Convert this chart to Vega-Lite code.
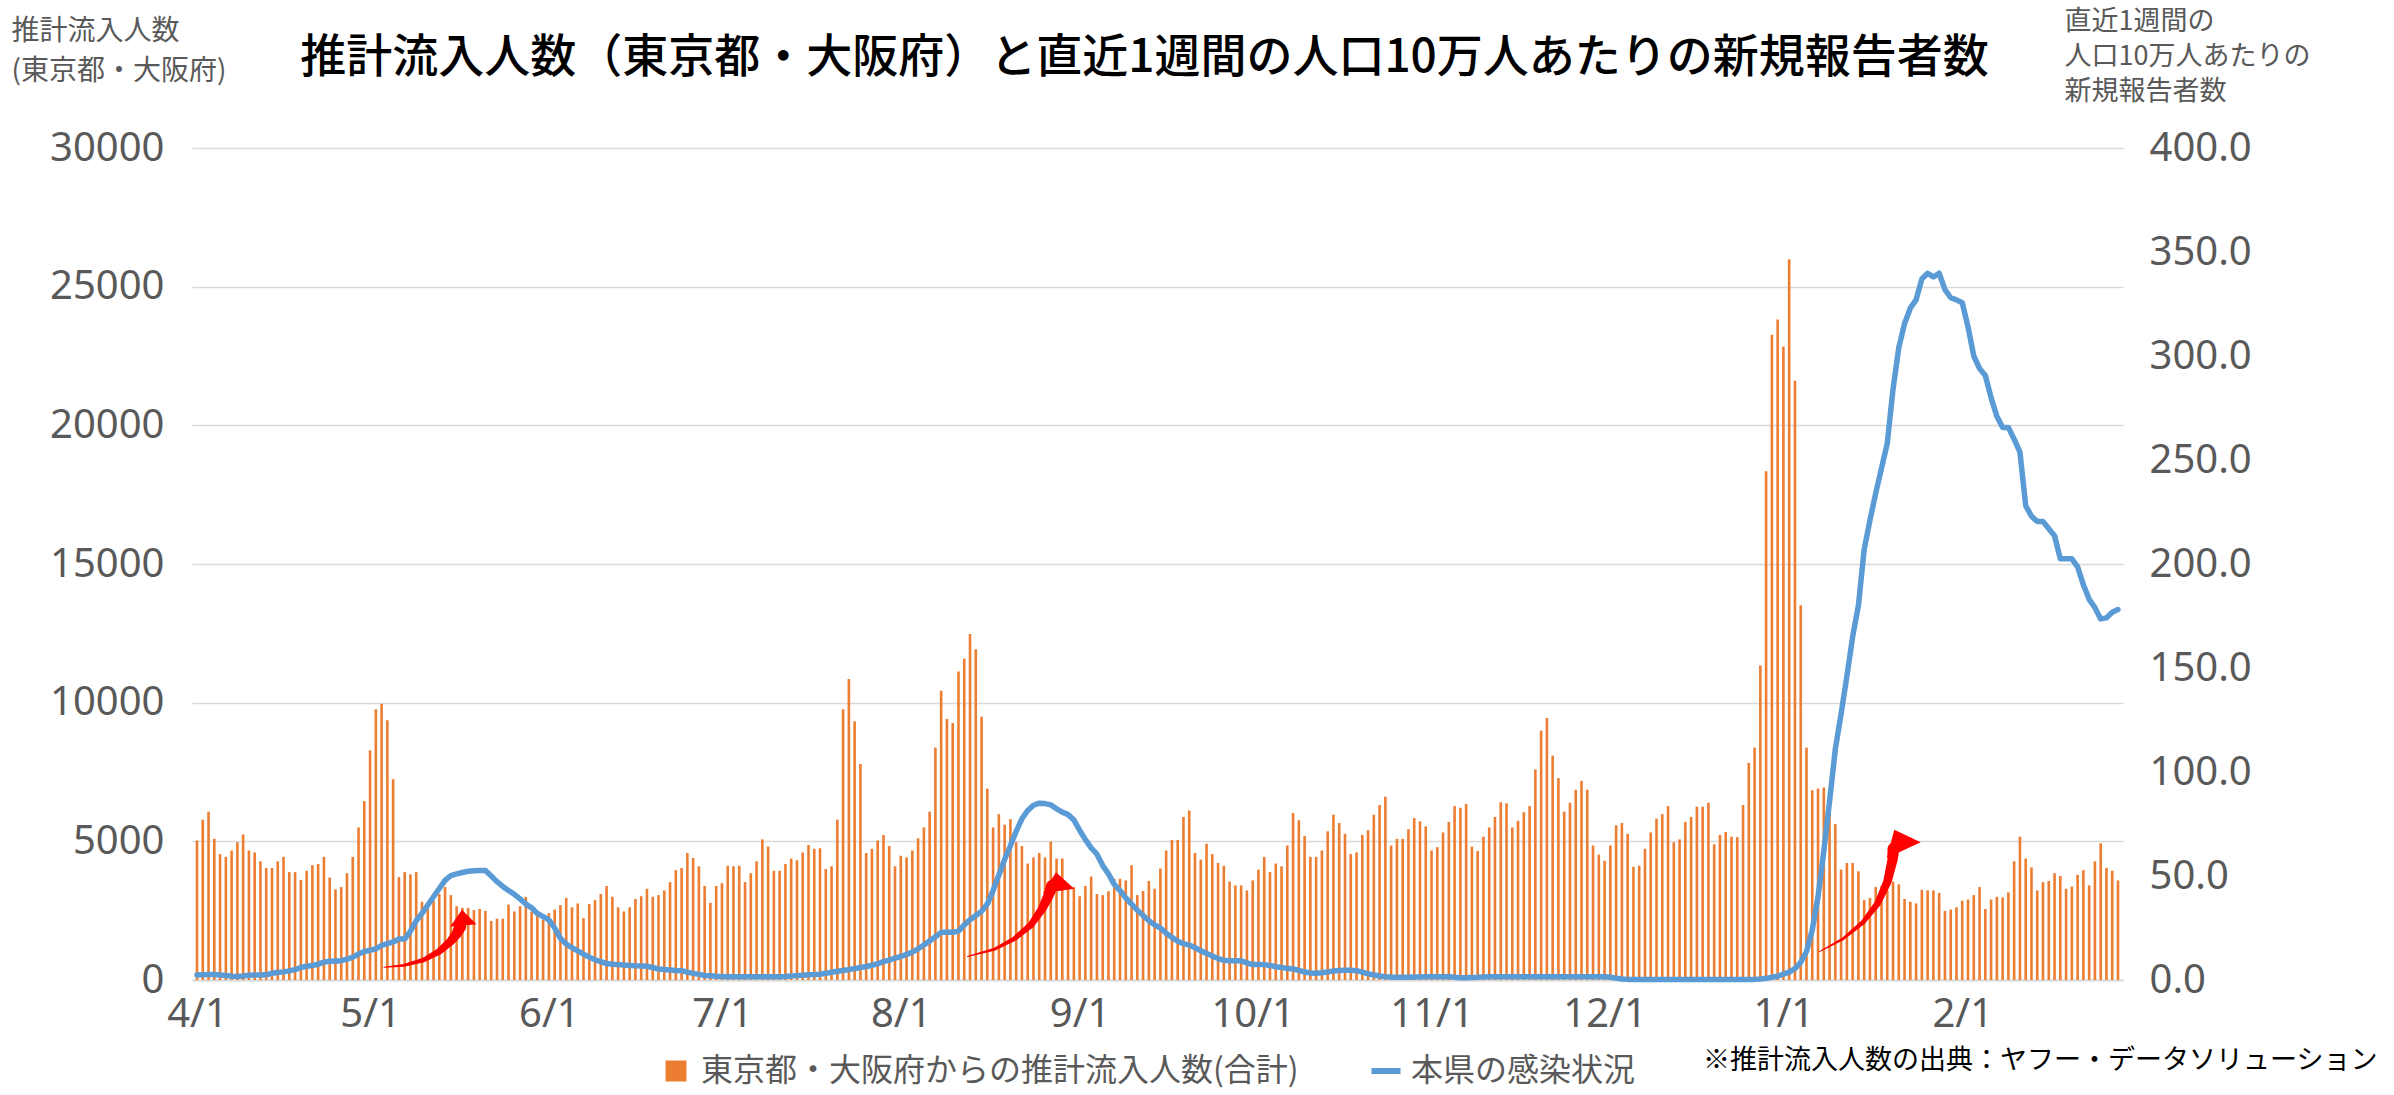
{
"$schema": "https://vega.github.io/schema/vega-lite/v6.json",
"width": 1931,
"height": 832,
"autosize": {"type": "none"},
"padding": {"left": 192, "top": 148, "right": 271, "bottom": 115},
"background": "#ffffff",
"config": {"view": {"stroke": null}, "font": "Noto Sans CJK JP"},
"title": {"text": "推計流入人数（東京都・大阪府）と直近1週間の人口10万人あたりの新規報告者数", "font": "Noto Sans CJK JP", "fontSize": 46, "fontWeight": 500, "color": "#000000", "anchor": "middle", "frame": "group", "dx": -13, "dy": 79},
"data": {"name": "daily", "format": {"parse": {"date": "date:'%Y-%m-%d'"}}},
"datasets": {
"daily": [
{"date":"2021-04-01","inflow":5030,"rate":2.4},
{"date":"2021-04-02","inflow":5780,"rate":2.5},
{"date":"2021-04-03","inflow":6070,"rate":2.6},
{"date":"2021-04-04","inflow":5090,"rate":2.6},
{"date":"2021-04-05","inflow":4540,"rate":2.4},
{"date":"2021-04-06","inflow":4440,"rate":2.2},
{"date":"2021-04-07","inflow":4670,"rate":1.8},
{"date":"2021-04-08","inflow":4970,"rate":1.7},
{"date":"2021-04-09","inflow":5250,"rate":1.9},
{"date":"2021-04-10","inflow":4670,"rate":2.3},
{"date":"2021-04-11","inflow":4600,"rate":2.4},
{"date":"2021-04-12","inflow":4280,"rate":2.4},
{"date":"2021-04-13","inflow":4040,"rate":2.5},
{"date":"2021-04-14","inflow":4040,"rate":3.2},
{"date":"2021-04-15","inflow":4280,"rate":3.6},
{"date":"2021-04-16","inflow":4440,"rate":3.9},
{"date":"2021-04-17","inflow":3890,"rate":4.4},
{"date":"2021-04-18","inflow":3890,"rate":5.0},
{"date":"2021-04-19","inflow":3610,"rate":6.0},
{"date":"2021-04-20","inflow":3940,"rate":6.6},
{"date":"2021-04-21","inflow":4140,"rate":7.0},
{"date":"2021-04-22","inflow":4180,"rate":7.6},
{"date":"2021-04-23","inflow":4440,"rate":8.6},
{"date":"2021-04-24","inflow":3690,"rate":9.0},
{"date":"2021-04-25","inflow":3270,"rate":9.1},
{"date":"2021-04-26","inflow":3350,"rate":9.3},
{"date":"2021-04-27","inflow":3850,"rate":10.0},
{"date":"2021-04-28","inflow":4440,"rate":11.0},
{"date":"2021-04-29","inflow":5500,"rate":12.5},
{"date":"2021-04-30","inflow":6450,"rate":13.7},
{"date":"2021-05-01","inflow":8280,"rate":14.3},
{"date":"2021-05-02","inflow":9760,"rate":15.0},
{"date":"2021-05-03","inflow":9960,"rate":16.6},
{"date":"2021-05-04","inflow":9370,"rate":17.5},
{"date":"2021-05-05","inflow":7240,"rate":18.3},
{"date":"2021-05-06","inflow":3710,"rate":19.7},
{"date":"2021-05-07","inflow":3890,"rate":19.7},
{"date":"2021-05-08","inflow":3810,"rate":23.5},
{"date":"2021-05-09","inflow":3890,"rate":28.5},
{"date":"2021-05-10","inflow":2820,"rate":32.0},
{"date":"2021-05-11","inflow":2620,"rate":36.0},
{"date":"2021-05-12","inflow":2860,"rate":40.0},
{"date":"2021-05-13","inflow":3100,"rate":44.0},
{"date":"2021-05-14","inflow":3350,"rate":47.9},
{"date":"2021-05-15","inflow":3060,"rate":50.2},
{"date":"2021-05-16","inflow":2660,"rate":51.0},
{"date":"2021-05-17","inflow":2600,"rate":51.7},
{"date":"2021-05-18","inflow":2600,"rate":52.3},
{"date":"2021-05-19","inflow":2520,"rate":52.5},
{"date":"2021-05-20","inflow":2560,"rate":52.6},
{"date":"2021-05-21","inflow":2490,"rate":52.6},
{"date":"2021-05-22","inflow":2130,"rate":50.0},
{"date":"2021-05-23","inflow":2210,"rate":47.3},
{"date":"2021-05-24","inflow":2210,"rate":45.0},
{"date":"2021-05-25","inflow":2720,"rate":43.0},
{"date":"2021-05-26","inflow":2470,"rate":41.2},
{"date":"2021-05-27","inflow":2660,"rate":39.0},
{"date":"2021-05-28","inflow":3000,"rate":36.5},
{"date":"2021-05-29","inflow":2470,"rate":34.7},
{"date":"2021-05-30","inflow":2470,"rate":32.0},
{"date":"2021-05-31","inflow":2170,"rate":30.5},
{"date":"2021-06-01","inflow":2410,"rate":28.9},
{"date":"2021-06-02","inflow":2540,"rate":25.0},
{"date":"2021-06-03","inflow":2700,"rate":20.0},
{"date":"2021-06-04","inflow":2960,"rate":17.3},
{"date":"2021-06-05","inflow":2620,"rate":15.5},
{"date":"2021-06-06","inflow":2760,"rate":14.0},
{"date":"2021-06-07","inflow":2230,"rate":12.4},
{"date":"2021-06-08","inflow":2740,"rate":11.0},
{"date":"2021-06-09","inflow":2880,"rate":9.7},
{"date":"2021-06-10","inflow":3100,"rate":8.8},
{"date":"2021-06-11","inflow":3390,"rate":7.9},
{"date":"2021-06-12","inflow":3000,"rate":7.6},
{"date":"2021-06-13","inflow":2620,"rate":7.4},
{"date":"2021-06-14","inflow":2470,"rate":7.2},
{"date":"2021-06-15","inflow":2620,"rate":7.0},
{"date":"2021-06-16","inflow":2920,"rate":6.8},
{"date":"2021-06-17","inflow":3020,"rate":6.7},
{"date":"2021-06-18","inflow":3290,"rate":6.6},
{"date":"2021-06-19","inflow":3000,"rate":6.0},
{"date":"2021-06-20","inflow":3060,"rate":5.3},
{"date":"2021-06-21","inflow":3230,"rate":5.0},
{"date":"2021-06-22","inflow":3530,"rate":4.8},
{"date":"2021-06-23","inflow":3960,"rate":4.6},
{"date":"2021-06-24","inflow":4040,"rate":4.5},
{"date":"2021-06-25","inflow":4580,"rate":3.8},
{"date":"2021-06-26","inflow":4400,"rate":3.2},
{"date":"2021-06-27","inflow":4100,"rate":2.7},
{"date":"2021-06-28","inflow":3390,"rate":2.2},
{"date":"2021-06-29","inflow":2780,"rate":2.0},
{"date":"2021-06-30","inflow":3390,"rate":1.8},
{"date":"2021-07-01","inflow":3490,"rate":1.7},
{"date":"2021-07-02","inflow":4120,"rate":1.6},
{"date":"2021-07-03","inflow":4100,"rate":1.6},
{"date":"2021-07-04","inflow":4120,"rate":1.6},
{"date":"2021-07-05","inflow":3530,"rate":1.6},
{"date":"2021-07-06","inflow":3850,"rate":1.6},
{"date":"2021-07-07","inflow":4280,"rate":1.6},
{"date":"2021-07-08","inflow":5070,"rate":1.6},
{"date":"2021-07-09","inflow":4810,"rate":1.6},
{"date":"2021-07-10","inflow":3940,"rate":1.6},
{"date":"2021-07-11","inflow":3940,"rate":1.6},
{"date":"2021-07-12","inflow":4180,"rate":1.7},
{"date":"2021-07-13","inflow":4380,"rate":1.9},
{"date":"2021-07-14","inflow":4320,"rate":2.1},
{"date":"2021-07-15","inflow":4600,"rate":2.3},
{"date":"2021-07-16","inflow":4870,"rate":2.5},
{"date":"2021-07-17","inflow":4730,"rate":2.6},
{"date":"2021-07-18","inflow":4750,"rate":2.8},
{"date":"2021-07-19","inflow":4000,"rate":3.2},
{"date":"2021-07-20","inflow":4100,"rate":3.7},
{"date":"2021-07-21","inflow":5780,"rate":4.2},
{"date":"2021-07-22","inflow":9760,"rate":4.6},
{"date":"2021-07-23","inflow":10850,"rate":5.0},
{"date":"2021-07-24","inflow":9330,"rate":5.5},
{"date":"2021-07-25","inflow":7790,"rate":6.0},
{"date":"2021-07-26","inflow":4580,"rate":6.5},
{"date":"2021-07-27","inflow":4730,"rate":7.1},
{"date":"2021-07-28","inflow":5030,"rate":7.8},
{"date":"2021-07-29","inflow":5230,"rate":8.8},
{"date":"2021-07-30","inflow":4830,"rate":9.6},
{"date":"2021-07-31","inflow":4100,"rate":10.5},
{"date":"2021-08-01","inflow":4480,"rate":11.3},
{"date":"2021-08-02","inflow":4420,"rate":12.3},
{"date":"2021-08-03","inflow":4670,"rate":13.4},
{"date":"2021-08-04","inflow":5110,"rate":15.0},
{"date":"2021-08-05","inflow":5500,"rate":16.8},
{"date":"2021-08-06","inflow":6070,"rate":18.8},
{"date":"2021-08-07","inflow":8380,"rate":20.8},
{"date":"2021-08-08","inflow":10430,"rate":22.9},
{"date":"2021-08-09","inflow":9410,"rate":22.9},
{"date":"2021-08-10","inflow":9270,"rate":22.9},
{"date":"2021-08-11","inflow":11120,"rate":23.5},
{"date":"2021-08-12","inflow":11580,"rate":26.5},
{"date":"2021-08-13","inflow":12480,"rate":29.0},
{"date":"2021-08-14","inflow":11930,"rate":31.0},
{"date":"2021-08-15","inflow":9490,"rate":33.0},
{"date":"2021-08-16","inflow":6900,"rate":36.5},
{"date":"2021-08-17","inflow":5500,"rate":43.0},
{"date":"2021-08-18","inflow":5980,"rate":50.5},
{"date":"2021-08-19","inflow":5600,"rate":58.0},
{"date":"2021-08-20","inflow":5800,"rate":64.5},
{"date":"2021-08-21","inflow":4970,"rate":71.5},
{"date":"2021-08-22","inflow":4830,"rate":77.5},
{"date":"2021-08-23","inflow":4200,"rate":81.5},
{"date":"2021-08-24","inflow":4420,"rate":84.0},
{"date":"2021-08-25","inflow":4580,"rate":85.0},
{"date":"2021-08-26","inflow":4420,"rate":84.8},
{"date":"2021-08-27","inflow":4990,"rate":84.2},
{"date":"2021-08-28","inflow":4380,"rate":82.3},
{"date":"2021-08-29","inflow":4380,"rate":80.7},
{"date":"2021-08-30","inflow":3410,"rate":79.5},
{"date":"2021-08-31","inflow":3350,"rate":77.0},
{"date":"2021-09-01","inflow":3020,"rate":72.0},
{"date":"2021-09-02","inflow":3390,"rate":67.5},
{"date":"2021-09-03","inflow":3730,"rate":63.5},
{"date":"2021-09-04","inflow":3100,"rate":60.5},
{"date":"2021-09-05","inflow":3060,"rate":55.0},
{"date":"2021-09-06","inflow":3200,"rate":51.0},
{"date":"2021-09-07","inflow":3650,"rate":46.0},
{"date":"2021-09-08","inflow":3650,"rate":43.0},
{"date":"2021-09-09","inflow":3590,"rate":39.5},
{"date":"2021-09-10","inflow":4140,"rate":36.5},
{"date":"2021-09-11","inflow":3060,"rate":33.5},
{"date":"2021-09-12","inflow":3210,"rate":31.0},
{"date":"2021-09-13","inflow":3570,"rate":28.5},
{"date":"2021-09-14","inflow":3290,"rate":26.5},
{"date":"2021-09-15","inflow":4020,"rate":25.0},
{"date":"2021-09-16","inflow":4670,"rate":22.5},
{"date":"2021-09-17","inflow":5050,"rate":20.5},
{"date":"2021-09-18","inflow":5050,"rate":18.6},
{"date":"2021-09-19","inflow":5880,"rate":17.5},
{"date":"2021-09-20","inflow":6110,"rate":16.8},
{"date":"2021-09-21","inflow":4580,"rate":15.5},
{"date":"2021-09-22","inflow":4340,"rate":14.0},
{"date":"2021-09-23","inflow":4910,"rate":12.8},
{"date":"2021-09-24","inflow":4540,"rate":11.5},
{"date":"2021-09-25","inflow":4220,"rate":10.3},
{"date":"2021-09-26","inflow":4120,"rate":9.5},
{"date":"2021-09-27","inflow":3550,"rate":9.3},
{"date":"2021-09-28","inflow":3410,"rate":9.2},
{"date":"2021-09-29","inflow":3410,"rate":9.2},
{"date":"2021-09-30","inflow":3230,"rate":8.2},
{"date":"2021-10-01","inflow":3590,"rate":7.4},
{"date":"2021-10-02","inflow":3980,"rate":7.4},
{"date":"2021-10-03","inflow":4440,"rate":7.4},
{"date":"2021-10-04","inflow":3890,"rate":7.0},
{"date":"2021-10-05","inflow":4200,"rate":6.4},
{"date":"2021-10-06","inflow":4100,"rate":6.0},
{"date":"2021-10-07","inflow":4850,"rate":5.6},
{"date":"2021-10-08","inflow":6020,"rate":5.3},
{"date":"2021-10-09","inflow":5760,"rate":4.6},
{"date":"2021-10-10","inflow":5190,"rate":3.8},
{"date":"2021-10-11","inflow":4440,"rate":3.4},
{"date":"2021-10-12","inflow":4440,"rate":3.2},
{"date":"2021-10-13","inflow":4670,"rate":3.5},
{"date":"2021-10-14","inflow":5360,"rate":3.9},
{"date":"2021-10-15","inflow":5960,"rate":4.3},
{"date":"2021-10-16","inflow":5660,"rate":4.6},
{"date":"2021-10-17","inflow":5270,"rate":4.7},
{"date":"2021-10-18","inflow":4540,"rate":4.7},
{"date":"2021-10-19","inflow":4600,"rate":4.5},
{"date":"2021-10-20","inflow":5230,"rate":3.8},
{"date":"2021-10-21","inflow":5400,"rate":3.0},
{"date":"2021-10-22","inflow":5960,"rate":2.4},
{"date":"2021-10-23","inflow":6310,"rate":1.9},
{"date":"2021-10-24","inflow":6610,"rate":1.6},
{"date":"2021-10-25","inflow":4850,"rate":1.4},
{"date":"2021-10-26","inflow":5090,"rate":1.3},
{"date":"2021-10-27","inflow":5090,"rate":1.3},
{"date":"2021-10-28","inflow":5440,"rate":1.3},
{"date":"2021-10-29","inflow":5840,"rate":1.4},
{"date":"2021-10-30","inflow":5720,"rate":1.5},
{"date":"2021-10-31","inflow":5540,"rate":1.6},
{"date":"2021-11-01","inflow":4670,"rate":1.6},
{"date":"2021-11-02","inflow":4790,"rate":1.6},
{"date":"2021-11-03","inflow":5320,"rate":1.6},
{"date":"2021-11-04","inflow":5700,"rate":1.6},
{"date":"2021-11-05","inflow":6270,"rate":1.3},
{"date":"2021-11-06","inflow":6210,"rate":1.1},
{"date":"2021-11-07","inflow":6350,"rate":1.1},
{"date":"2021-11-08","inflow":4810,"rate":1.2},
{"date":"2021-11-09","inflow":4650,"rate":1.3},
{"date":"2021-11-10","inflow":5170,"rate":1.5},
{"date":"2021-11-11","inflow":5500,"rate":1.6},
{"date":"2021-11-12","inflow":5880,"rate":1.6},
{"date":"2021-11-13","inflow":6410,"rate":1.6},
{"date":"2021-11-14","inflow":6370,"rate":1.6},
{"date":"2021-11-15","inflow":5500,"rate":1.6},
{"date":"2021-11-16","inflow":5740,"rate":1.6},
{"date":"2021-11-17","inflow":6050,"rate":1.6},
{"date":"2021-11-18","inflow":6270,"rate":1.6},
{"date":"2021-11-19","inflow":7590,"rate":1.6},
{"date":"2021-11-20","inflow":8990,"rate":1.6},
{"date":"2021-11-21","inflow":9450,"rate":1.6},
{"date":"2021-11-22","inflow":8090,"rate":1.6},
{"date":"2021-11-23","inflow":7280,"rate":1.6},
{"date":"2021-11-24","inflow":6070,"rate":1.6},
{"date":"2021-11-25","inflow":6390,"rate":1.6},
{"date":"2021-11-26","inflow":6860,"rate":1.6},
{"date":"2021-11-27","inflow":7180,"rate":1.6},
{"date":"2021-11-28","inflow":6860,"rate":1.6},
{"date":"2021-11-29","inflow":4850,"rate":1.6},
{"date":"2021-11-30","inflow":4520,"rate":1.6},
{"date":"2021-12-01","inflow":4300,"rate":1.6},
{"date":"2021-12-02","inflow":4850,"rate":1.3},
{"date":"2021-12-03","inflow":5580,"rate":0.9},
{"date":"2021-12-04","inflow":5660,"rate":0.5},
{"date":"2021-12-05","inflow":5270,"rate":0.3},
{"date":"2021-12-06","inflow":4080,"rate":0.3},
{"date":"2021-12-07","inflow":4120,"rate":0.3},
{"date":"2021-12-08","inflow":4730,"rate":0.3},
{"date":"2021-12-09","inflow":5320,"rate":0.3},
{"date":"2021-12-10","inflow":5820,"rate":0.3},
{"date":"2021-12-11","inflow":5980,"rate":0.3},
{"date":"2021-12-12","inflow":6270,"rate":0.3},
{"date":"2021-12-13","inflow":4970,"rate":0.3},
{"date":"2021-12-14","inflow":5070,"rate":0.3},
{"date":"2021-12-15","inflow":5700,"rate":0.3},
{"date":"2021-12-16","inflow":5880,"rate":0.3},
{"date":"2021-12-17","inflow":6250,"rate":0.3},
{"date":"2021-12-18","inflow":6250,"rate":0.3},
{"date":"2021-12-19","inflow":6390,"rate":0.3},
{"date":"2021-12-20","inflow":4890,"rate":0.3},
{"date":"2021-12-21","inflow":5230,"rate":0.3},
{"date":"2021-12-22","inflow":5340,"rate":0.3},
{"date":"2021-12-23","inflow":5170,"rate":0.3},
{"date":"2021-12-24","inflow":5150,"rate":0.3},
{"date":"2021-12-25","inflow":6310,"rate":0.3},
{"date":"2021-12-26","inflow":7830,"rate":0.3},
{"date":"2021-12-27","inflow":8380,"rate":0.3},
{"date":"2021-12-28","inflow":11340,"rate":0.5},
{"date":"2021-12-29","inflow":18340,"rate":0.8},
{"date":"2021-12-30","inflow":23270,"rate":1.3},
{"date":"2021-12-31","inflow":23820,"rate":1.8},
{"date":"2022-01-01","inflow":22840,"rate":2.8},
{"date":"2022-01-02","inflow":25990,"rate":3.8},
{"date":"2022-01-03","inflow":21610,"rate":5.5},
{"date":"2022-01-04","inflow":13510,"rate":8.5},
{"date":"2022-01-05","inflow":8380,"rate":13.7},
{"date":"2022-01-06","inflow":6840,"rate":24},
{"date":"2022-01-07","inflow":6900,"rate":40},
{"date":"2022-01-08","inflow":6940,"rate":62},
{"date":"2022-01-09","inflow":6450,"rate":86},
{"date":"2022-01-10","inflow":5620,"rate":111},
{"date":"2022-01-11","inflow":3980,"rate":128},
{"date":"2022-01-12","inflow":4220,"rate":146},
{"date":"2022-01-13","inflow":4220,"rate":165},
{"date":"2022-01-14","inflow":3920,"rate":180},
{"date":"2022-01-15","inflow":2880,"rate":207},
{"date":"2022-01-16","inflow":2960,"rate":221},
{"date":"2022-01-17","inflow":3350,"rate":234},
{"date":"2022-01-18","inflow":3390,"rate":246},
{"date":"2022-01-19","inflow":3230,"rate":258},
{"date":"2022-01-20","inflow":3550,"rate":284},
{"date":"2022-01-21","inflow":3450,"rate":304},
{"date":"2022-01-22","inflow":2920,"rate":315.6},
{"date":"2022-01-23","inflow":2820,"rate":323},
{"date":"2022-01-24","inflow":2760,"rate":327},
{"date":"2022-01-25","inflow":3250,"rate":337},
{"date":"2022-01-26","inflow":3230,"rate":339.8},
{"date":"2022-01-27","inflow":3230,"rate":338.0},
{"date":"2022-01-28","inflow":3140,"rate":339.8},
{"date":"2022-01-29","inflow":2490,"rate":331.9},
{"date":"2022-01-30","inflow":2540,"rate":328},
{"date":"2022-01-31","inflow":2620,"rate":327},
{"date":"2022-02-01","inflow":2860,"rate":325.6},
{"date":"2022-02-02","inflow":2900,"rate":314},
{"date":"2022-02-03","inflow":3060,"rate":300},
{"date":"2022-02-04","inflow":3350,"rate":294},
{"date":"2022-02-05","inflow":2560,"rate":290.6},
{"date":"2022-02-06","inflow":2900,"rate":280},
{"date":"2022-02-07","inflow":3000,"rate":271},
{"date":"2022-02-08","inflow":2980,"rate":265.6},
{"date":"2022-02-09","inflow":3160,"rate":265.6},
{"date":"2022-02-10","inflow":4280,"rate":260},
{"date":"2022-02-11","inflow":5170,"rate":253.8},
{"date":"2022-02-12","inflow":4380,"rate":228},
{"date":"2022-02-13","inflow":4060,"rate":223},
{"date":"2022-02-14","inflow":3230,"rate":220.4},
{"date":"2022-02-15","inflow":3530,"rate":220.4},
{"date":"2022-02-16","inflow":3570,"rate":217},
{"date":"2022-02-17","inflow":3850,"rate":213.6},
{"date":"2022-02-18","inflow":3750,"rate":202.5},
{"date":"2022-02-19","inflow":3290,"rate":202.5},
{"date":"2022-02-20","inflow":3370,"rate":202.5},
{"date":"2022-02-21","inflow":3790,"rate":198.6},
{"date":"2022-02-22","inflow":3960,"rate":190},
{"date":"2022-02-23","inflow":3410,"rate":183},
{"date":"2022-02-24","inflow":4280,"rate":179},
{"date":"2022-02-25","inflow":4930,"rate":173.6},
{"date":"2022-02-26","inflow":4040,"rate":174.1},
{"date":"2022-02-27","inflow":3940,"rate":176.8},
{"date":"2022-02-28","inflow":3590,"rate":178.1}
],
"arrows": [
{"arrow":1,"step":0,"date":"2021-05-03T10:00","value":458},
{"arrow":1,"step":1,"date":"2021-05-06T21:00","value":530},
{"arrow":1,"step":2,"date":"2021-05-10T07:00","value":721},
{"arrow":1,"step":3,"date":"2021-05-12T22:00","value":1021},
{"arrow":1,"step":4,"date":"2021-05-14T22:00","value":1381},
{"arrow":1,"step":5,"date":"2021-05-16T01:00","value":1684},
{"arrow":1,"step":6,"date":"2021-05-16T15:00","value":1922},
{"arrow":2,"step":0,"date":"2021-08-12T13:00","value":848},
{"arrow":2,"step":1,"date":"2021-08-17T04:00","value":1104},
{"arrow":2,"step":2,"date":"2021-08-20T15:00","value":1479},
{"arrow":2,"step":3,"date":"2021-08-23T12:00","value":1972},
{"arrow":2,"step":4,"date":"2021-08-25T12:00","value":2564},
{"arrow":2,"step":5,"date":"2021-08-26T15:00","value":3057},
{"arrow":2,"step":6,"date":"2021-08-27T05:00","value":3392},
{"arrow":3,"step":0,"date":"2022-01-07T06:00","value":1025},
{"arrow":3,"step":1,"date":"2022-01-11T07:00","value":1479},
{"arrow":3,"step":2,"date":"2022-01-14T18:00","value":2071},
{"arrow":3,"step":3,"date":"2022-01-17T08:00","value":2761},
{"arrow":3,"step":4,"date":"2022-01-19T01:00","value":3550},
{"arrow":3,"step":5,"date":"2022-01-19T22:00","value":4338},
{"arrow":3,"step":6,"date":"2022-01-20T02:00","value":4733}
],
"heads": [
{"arrow":1,"date":"2021-05-17T01:00","value":2250},
{"arrow":2,"date":"2021-08-28T03:00","value":3550},
{"arrow":3,"date":"2022-01-21T01:00","value":5050}
]
},
"layer": [
{
"mark": {"type": "bar", "size": 2.6},
"encoding": {
"x": {"field": "date", "type": "temporal",
 "scale": {"domain": [{"year": 2021, "month": 4, "date": 1}, {"year": 2022, "month": 2, "date": 28}]},
 "axis": {"values": [{"year": 2021, "month": 4, "date": 1}, {"year": 2021, "month": 5, "date": 1}, {"year": 2021, "month": 6, "date": 1}, {"year": 2021, "month": 7, "date": 1}, {"year": 2021, "month": 8, "date": 1}, {"year": 2021, "month": 9, "date": 1}, {"year": 2021, "month": 10, "date": 1}, {"year": 2021, "month": 11, "date": 1}, {"year": 2021, "month": 12, "date": 1}, {"year": 2022, "month": 1, "date": 1}, {"year": 2022, "month": 2, "date": 1}],
  "format": "%-m/%-d", "labelFont": "Noto Sans", "labelFontSize": 40, "labelColor": "#595959", "labelPadding": 14, "labelFlush": false, "labelOverlap": false,
  "ticks": false, "grid": false, "domain": true, "domainColor": "#D9D9D9", "domainWidth": 2,
  "title": "※推計流入人数の出典：ヤフー・データソリューション", "titleFont": "Noto Sans CJK JP", "titleFontSize": 27, "titleFontWeight": "normal", "titleColor": "#000000",
  "titleX": 2185, "titleY": 80, "titleAlign": "right", "titleBaseline": "middle", "titleLimit": 2000}},
"y": {"field": "inflow", "type": "quantitative",
 "scale": {"domain": [0, 30000], "nice": false},
 "axis": {"orient": "left", "values": [0, 5000, 10000, 15000, 20000, 25000, 30000], "format": "d",
  "labelFont": "Noto Sans", "labelFontSize": 40, "labelColor": "#595959", "labelPadding": 28,
  "ticks": false, "domain": false, "grid": true, "gridColor": "#D9D9D9", "gridWidth": 1.5,
  "title": ["推計流入人数", "(東京都・大阪府)"], "titleFont": "Noto Sans CJK JP", "titleFontSize": 28, "titleFontWeight": "normal", "titleColor": "#595959",
  "titleAngle": 0, "titleAlign": "left", "titleBaseline": "top", "titleX": -181, "titleY": -131, "titleLineHeight": 40, "titleLimit": 1000}},
"color": {"datum": "東京都・大阪府からの推計流入人数(合計)",
 "scale": {"domain": ["東京都・大阪府からの推計流入人数(合計)", "本県の感染状況"], "range": ["#ED7D31", "#5B9BD5"]},
 "legend": {"orient": "none", "legendX": 468, "legendY": 907, "direction": "horizontal", "title": null,
  "labelFont": "Noto Sans CJK JP", "labelFontSize": 32, "labelColor": "#595959", "labelLimit": 1000, "labelOffset": 9,
  "symbolType": "square", "symbolSize": 441, "columnPadding": 60,
  "encode": {"symbols": {"update": {
   "shape": {"signal": "datum.value === '本県の感染状況' ? 'stroke' : 'square'"},
   "size": {"signal": "datum.value === '本県の感染状況' ? 841 : 441"},
   "fill": {"signal": "datum.value === '本県の感染状況' ? 'transparent' : '#ED7D31'"},
   "stroke": {"signal": "datum.value === '本県の感染状況' ? '#5B9BD5' : 'transparent'"},
   "strokeWidth": {"signal": "datum.value === '本県の感染状況' ? 6 : 0"},
   "opacity": {"value": 1}}}}}}
}
},
{
"mark": {"type": "line", "strokeWidth": 5.5, "strokeCap": "round", "strokeJoin": "round"},
"encoding": {
"x": {"field": "date", "type": "temporal", "scale": {"domain": [{"year": 2021, "month": 4, "date": 1}, {"year": 2022, "month": 2, "date": 28}]}},
"y": {"field": "rate", "type": "quantitative",
 "scale": {"domain": [0, 400], "nice": false},
 "axis": {"orient": "right", "values": [0, 50, 100, 150, 200, 250, 300, 350, 400], "format": ".1f",
  "labelFont": "Noto Sans", "labelFontSize": 40, "labelColor": "#595959", "labelPadding": 26,
  "ticks": false, "domain": false, "grid": false,
  "title": ["直近1週間の", "人口10万人あたりの", "新規報告者数"], "titleFont": "Noto Sans CJK JP", "titleFontSize": 27, "titleFontWeight": "normal", "titleColor": "#595959",
  "titleAngle": 0, "titleAlign": "left", "titleBaseline": "top", "titleX": -59, "titleY": -140, "titleLineHeight": 35, "titleLimit": 1000}},
"color": {"datum": "本県の感染状況"}
}
},
{
"data": {"name": "arrows", "format": {"parse": {"date": "date:'%Y-%m-%dT%H:%M'"}}},
"mark": {"type": "trail", "color": "#FF0000"},
"encoding": {
"x": {"field": "date", "type": "temporal", "scale": {"domain": [{"year": 2021, "month": 4, "date": 1}, {"year": 2022, "month": 2, "date": 28}]}},
"y": {"field": "value", "type": "quantitative", "scale": {"domain": [0, 30000], "nice": false}, "axis": null},
"detail": {"field": "arrow", "type": "nominal"},
"order": {"field": "step", "type": "quantitative"},
"size": {"field": "step", "type": "quantitative", "scale": {"domain": [0, 6], "range": [1, 12]}, "legend": null}
}
},
{
"data": {"name": "heads", "format": {"parse": {"date": "date:'%Y-%m-%dT%H:%M'"}}},
"mark": {"type": "point", "filled": true, "color": "#FF0000", "opacity": 1, "shape": "M 0 -0.6 L 1 0.6 L -1 0.6 Z"},
"encoding": {
"x": {"field": "date", "type": "temporal", "scale": {"domain": [{"year": 2021, "month": 4, "date": 1}, {"year": 2022, "month": 2, "date": 28}]}},
"y": {"field": "value", "type": "quantitative", "scale": {"domain": [0, 30000], "nice": false}, "axis": null},
"angle": {"field": "arrow", "type": "quantitative", "scale": {"domain": [1, 2, 3], "range": [-5, -8, -25]}, "legend": null},
"size": {"field": "arrow", "type": "quantitative", "scale": {"domain": [1, 2, 3], "range": [700, 1000, 1400]}, "legend": null}
}
}
],
"resolve": {"scale": {"y": "independent", "size": "independent", "angle": "independent"}}
}
